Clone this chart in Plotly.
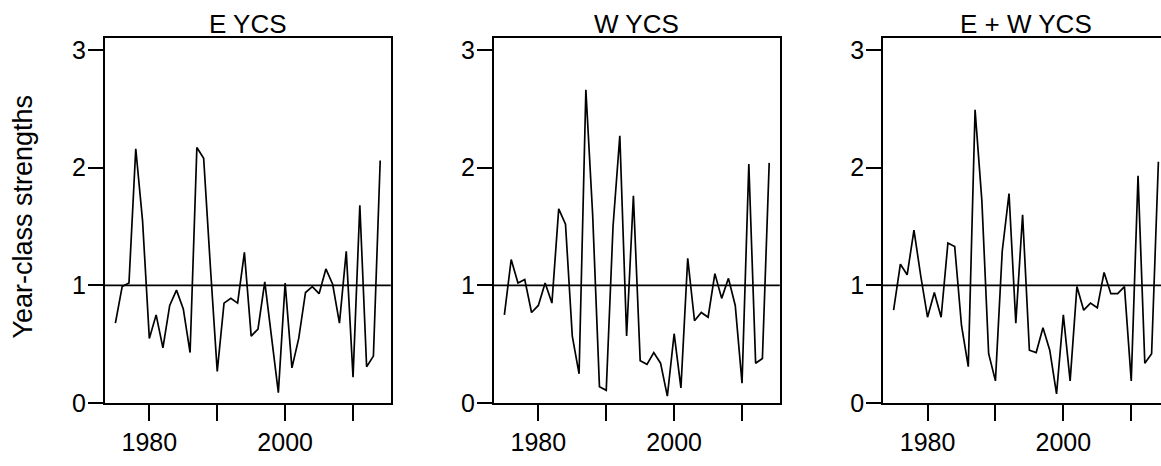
import plotly.graph_objects as go

years = [1975, 1976, 1977, 1978, 1979, 1980, 1981, 1982, 1983, 1984,
         1985, 1986, 1987, 1988, 1989, 1990, 1991, 1992, 1993, 1994,
         1995, 1996, 1997, 1998, 1999, 2000, 2001, 2002, 2003, 2004,
         2005, 2006, 2007, 2008, 2009, 2010, 2011, 2012, 2013, 2014]

e_ycs = [0.68, 0.99, 1.02, 2.16, 1.55, 0.55, 0.75, 0.47, 0.83, 0.96,
         0.80, 0.43, 2.17, 2.08, 1.15, 0.27, 0.85, 0.89, 0.85, 1.28,
         0.57, 0.63, 1.03, 0.55, 0.09, 1.02, 0.30, 0.55, 0.94, 0.99,
         0.93, 1.14, 1.01, 0.68, 1.29, 0.22, 1.68, 0.31, 0.40, 2.06]

w_ycs = [0.75, 1.22, 1.02, 1.05, 0.77, 0.83, 1.02, 0.85, 1.65, 1.52,
         0.57, 0.25, 2.66, 1.60, 0.14, 0.11, 1.50, 2.27, 0.57, 1.76,
         0.36, 0.33, 0.43, 0.34, 0.06, 0.59, 0.13, 1.23, 0.70, 0.77,
         0.73, 1.10, 0.89, 1.06, 0.83, 0.17, 2.03, 0.34, 0.38, 2.04]

ew_ycs = [0.79, 1.18, 1.09, 1.47, 1.08, 0.73, 0.94, 0.73, 1.36, 1.33,
          0.66, 0.31, 2.49, 1.72, 0.42, 0.19, 1.29, 1.78, 0.68, 1.60,
          0.45, 0.43, 0.64, 0.45, 0.08, 0.75, 0.19, 0.99, 0.79, 0.85,
          0.81, 1.11, 0.93, 0.93, 0.99, 0.19, 1.93, 0.34, 0.42, 2.05]

titles = ["E YCS", "W YCS", "E + W YCS"]
x_tickvals = [1980, 1990, 2000, 2010]
x_ticktext = ["1980", "", "2000", ""]
y_tickvals = [0, 1, 2, 3]
y_ticktext = ["0", "1", "2", "3"]
y_label = "Year-class strengths"
reference_level = 1

W, H = 1161, 466
FONT = "Liberation Sans, Arial, Helvetica, sans-serif"
px_per_year = 6.79
x_lo, x_hi = 1973.44, 2015.56
lefts = [104.8, 493.8, 883.0]
top_px, bottom_px = 37.3, 415.5
LW = 1.7

fig = go.Figure()
series = [e_ycs, w_ycs, ew_ycs]
for i, vals in enumerate(series):
    n = "" if i == 0 else str(i + 1)
    fig.add_trace(go.Scatter(x=years, y=vals, mode="lines",
                             line=dict(color="black", width=LW),
                             xaxis="x" + n, yaxis="y" + n,
                             showlegend=False, hoverinfo="skip"))
    left = lefts[i]
    right = left + (x_hi - x_lo) * px_per_year
    hi = x_hi
    if right > W:
        hi = x_lo + (W - left) / px_per_year
        right = W
    dom = [left / W, right / W]
    ydom = [(H - bottom_px) / H, (H - top_px) / H]
    xa = dict(domain=dom, range=[x_lo, hi], anchor="y" + n,
              tickvals=x_tickvals, ticktext=x_ticktext,
              ticks="outside", ticklen=16, tickwidth=LW, tickcolor="black",
              showline=True, linecolor="black", linewidth=LW, mirror=True,
              showgrid=False, zeroline=False,
              tickfont=dict(family=FONT, size=25, color="black"))
    ya = dict(domain=ydom, range=[0, 3.1], anchor="x" + n,
              tickvals=y_tickvals, ticktext=y_ticktext,
              ticks="outside", ticklen=15, tickwidth=LW, tickcolor="black",
              ticklabelstandoff=-3,
              showline=True, linecolor="black", linewidth=LW,
              mirror=(right < W),
              showgrid=False, zeroline=False,
              tickfont=dict(family=FONT, size=25, color="black"))
    fig.update_layout(**{"xaxis" + n: xa, "yaxis" + n: ya})
    fig.add_shape(type="line", xref="x" + n + " domain", yref="y" + n,
                  x0=0, x1=1, y0=reference_level, y1=reference_level,
                  line=dict(color="black", width=LW))
    center = (left + left + (x_hi - x_lo) * px_per_year) / 2
    fig.add_annotation(text=titles[i], x=center / W, y=(H - 22.5) / H,
                       xref="paper", yref="paper", showarrow=False,
                       xanchor="center", yanchor="middle",
                       font=dict(family=FONT, size=26, color="black"))

fig.add_annotation(text=y_label, x=22.7 / W, y=(H - 222.5) / H,
                   xref="paper", yref="paper", showarrow=False,
                   textangle=-90, xanchor="center", yanchor="middle",
                   font=dict(family=FONT, size=27, color="black"))

fig.update_layout(width=W, height=H, margin=dict(l=0, r=0, t=0, b=0),
                  plot_bgcolor="white", paper_bgcolor="white")
fig.write_html("out.html")
